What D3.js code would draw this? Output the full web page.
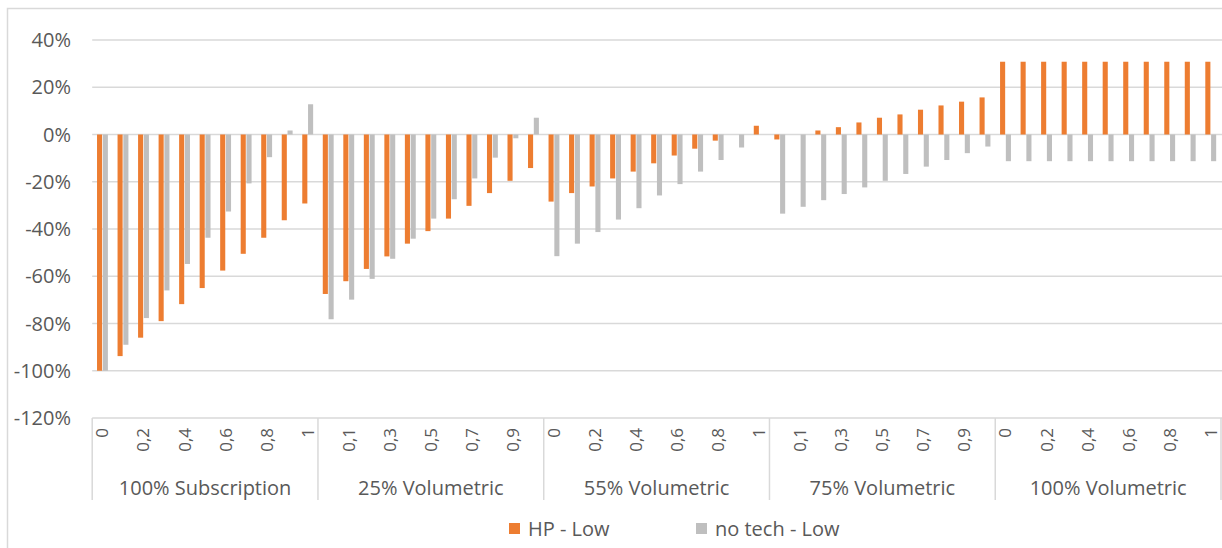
<!DOCTYPE html>
<html>
<head>
<meta charset="utf-8">
<script src="https://cdn.jsdelivr.net/npm/d3@7"></script>
<style>
  body { margin: 0; background: #fff; }
  text { font-family: "Open Sans", sans-serif; fill: #595959; }
</style>
</head>
<body>
<div id="chart"></div>
<script>
// groups on the x axis, each with 11 steps
var groups = ["100% Subscription", "25% Volumetric", "55% Volumetric", "75% Volumetric", "100% Volumetric"];
var steps = [0, 0.1, 0.2, 0.3, 0.4, 0.5, 0.6, 0.7, 0.8, 0.9, 1];
var yTicks = [-1.2, -1.0, -0.8, -0.6, -0.4, -0.2, 0, 0.2, 0.4];
var seriesNames = ["HP - Low", "no tech - Low"];

// values in %, one line per group
var hpLow = [
  -100, -93.8, -86, -79, -71.8, -65, -57.6, -50.5, -43.7, -36.3, -29.2,
  -67.5, -62.1, -56.9, -51.6, -46.2, -40.9, -35.6, -30.2, -24.8, -19.6, -14.2,
  -28.4, -24.8, -22, -18.6, -15.7, -12.2, -8.9, -6, -2.6, 0, 3.7,
  -2.1, 0, 1.7, 3.1, 5.1, 7.1, 8.5, 10.5, 12.3, 13.9, 15.7,
  30.8, 30.8, 30.8, 30.8, 30.8, 30.8, 30.8, 30.8, 30.8, 30.8, 30.8
];
var noTechLow = [
  -100, -89, -77.7, -66, -54.8, -43.7, -32.6, -20.7, -9.6, 1.7, 12.8,
  -78.2, -69.9, -61.1, -52.6, -44.1, -35.6, -27.4, -18.6, -9.8, -1.6, 7.1,
  -51.5, -46.2, -41.3, -36, -31.2, -25.8, -21, -15.7, -10.8, -5.5, 0,
  -33.5, -30.6, -27.8, -25.2, -22.4, -19.6, -16.7, -13.6, -10.8, -7.9, -5.1,
  -11.3, -11.3, -11.3, -11.3, -11.3, -11.3, -11.3, -11.3, -11.3, -11.3, -11.3
];

var colors = ["#ED7D31", "#BFBFBF"];

var W = 1222, H = 548;
var margin = {top: 40, left: 92.2, right: 1221, bottom: 418};

var svg = d3.select("#chart").append("svg")
    .attr("width", W)
    .attr("height", H);

// chart area frame
svg.append("rect")
  .attr("x", 7.5).attr("y", 8.5)
  .attr("width", 1240).attr("height", 580)
  .attr("fill", "none")
  .attr("stroke", "#D9D9D9")
  .attr("stroke-width", 1.5);

// build rows: one per category
var rows = [];
groups.forEach(function(g, gi) {
  steps.forEach(function(s, si) {
    var i = gi * steps.length + si;
    rows.push({key: i, group: g, step: s, values: [hpLow[i] / 100, noTechLow[i] / 100]});
  });
});

var x0 = d3.scaleBand()
  .domain(rows.map(function(d) { return d.key; }))
  .range([margin.left, margin.right])
  .paddingInner(0.47)
  .paddingOuter(0.235);

var x1 = d3.scaleBand()
  .domain([0, 1])
  .range([0, x0.bandwidth()])
  .paddingInner(0.12);

var y = d3.scaleLinear()
  .domain([-1.2, 0.4])
  .range([margin.bottom, margin.top]);

// gridlines
svg.append("g")
  .selectAll("line")
  .data(yTicks)
  .enter().append("line")
    .attr("x1", margin.left)
    .attr("x2", W)
    .attr("y1", function(d) { return y(d); })
    .attr("y2", function(d) { return y(d); })
    .attr("stroke", "#D9D9D9")
    .attr("stroke-width", 1.5);

// y labels
svg.append("g")
  .selectAll("text")
  .data(yTicks)
  .enter().append("text")
    .attr("x", 71)
    .attr("y", function(d) { return y(d); })
    .attr("dy", "0.36em")
    .attr("text-anchor", "end")
    .style("font-size", "20px")
    .text(function(d) { return Math.round(d * 100) + "%"; });

// bars
var cat = svg.append("g")
  .selectAll("g")
  .data(rows)
  .enter().append("g")
    .attr("transform", function(d) { return "translate(" + x0(d.key) + ",0)"; });

cat.selectAll("rect")
  .data(function(d) { return d.values.map(function(v, k) { return {k: k, v: v}; }); })
  .enter().append("rect")
    .attr("x", function(d) { return x1(d.k); })
    .attr("y", function(d) { return y(Math.max(0, d.v)); })
    .attr("width", x1.bandwidth())
    .attr("height", function(d) { return Math.abs(y(d.v) - y(0)); })
    .attr("fill", function(d) { return colors[d.k]; });

// group separators
var groupW = (margin.right - margin.left) / groups.length;
svg.append("g")
  .selectAll("line")
  .data(d3.range(groups.length + 1))
  .enter().append("line")
    .attr("x1", function(d) { return margin.left + d * groupW; })
    .attr("x2", function(d) { return margin.left + d * groupW; })
    .attr("y1", margin.bottom)
    .attr("y2", 500)
    .attr("stroke", "#D9D9D9")
    .attr("stroke-width", 1.5);

// step labels, every other category
svg.append("g")
  .selectAll("text")
  .data(rows.filter(function(d) { return d.key % 2 === 0; }))
  .enter().append("text")
    .attr("transform", function(d) {
      return "translate(" + (x0(d.key) + x0.bandwidth() / 2) + ",428) rotate(-90)";
    })
    .attr("dy", "0.35em")
    .attr("text-anchor", "end")
    .style("font-size", "17px")
    .text(function(d) { return String(d.step).replace(".", ","); });

// group labels
svg.append("g")
  .selectAll("text")
  .data(groups)
  .enter().append("text")
    .attr("x", function(d, i) { return margin.left + (i + 0.5) * groupW; })
    .attr("y", 488)
    .attr("dy", "0.36em")
    .attr("text-anchor", "middle")
    .style("font-size", "20px")
    .text(function(d) { return d; });

// legend
var legendX = [509, 696];
var legend = svg.append("g")
  .selectAll("g")
  .data(seriesNames)
  .enter().append("g")
    .attr("transform", function(d, i) { return "translate(" + legendX[i] + ",523)"; });

legend.append("rect")
  .attr("width", 11)
  .attr("height", 11)
  .attr("fill", function(d, i) { return colors[i]; });

legend.append("text")
  .attr("x", 19)
  .attr("y", 6)
  .attr("dy", "0.36em")
  .style("font-size", "20px")
  .text(function(d) { return d; });
</script>
</body>
</html>
